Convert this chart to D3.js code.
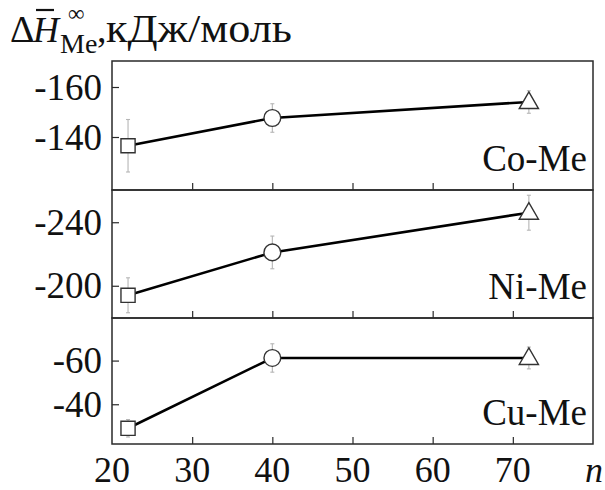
<!DOCTYPE html>
<html><head><meta charset="utf-8">
<script src="https://cdn.jsdelivr.net/npm/d3@7"></script>
<style>
html,body{margin:0;padding:0;background:#fff;}
</style></head>
<body>
<svg id="chart" width="605" height="490" font-family="'Liberation Serif', 'DejaVu Serif', 'Times New Roman', serif"></svg>
<script>
// ---- data ----
const nValues = [22, 40, 72];
const markerShapes = ["square", "circle", "triangle"];
const panelNames = ["Co-Me", "Ni-Me", "Cu-Me"];
const coValues = [-136.5, -147.6, -154.0];
const coErrors = [10.5, 5.7, 4.5];
const niValues = [-194.0, -221.0, -246.0];
const niErrors = [11, 10.3, 11];
const cuValues = [-29.0, -61.2, -61.2];
const cuErrors = [4, 6.5, 5];
const coTicks = [-140, -160];
const niTicks = [-200, -240];
const cuTicks = [-40, -60];
const xTicks = [20, 30, 40, 50, 60, 70];
const coDomain = [-118.8, -170.4];
const niDomain = [-179.7, -260.3];
const cuDomain = [-21.8, -79.5];

const FONT = "'Liberation Serif', 'DejaVu Serif', 'Times New Roman', serif";
const svg = d3.select("#chart");
const left = 112, right = 593;
const x = d3.scaleLinear().domain([20, 80]).range([left, right]);
const panels = [
  {name: panelNames[0], vals: coValues, errs: coErrors, ticks: coTicks, domain: coDomain, top: 61, bottom: 190},
  {name: panelNames[1], vals: niValues, errs: niErrors, ticks: niTicks, domain: niDomain, top: 190, bottom: 318},
  {name: panelNames[2], vals: cuValues, errs: cuErrors, ticks: cuTicks, domain: cuDomain, top: 318, bottom: 444}
];
const frameColor = "#2a2a2a";
const txt = "#111";

panels.forEach((p, pi) => {
  const y = d3.scaleLinear().domain(p.domain).range([p.bottom, p.top]);
  const g = svg.append("g");
  const xa = g.append("g").attr("transform", `translate(0,${p.bottom})`)
    .call(d3.axisTop(x).tickValues(xTicks.slice(1)).tickSize(7).tickFormat(""));
  xa.select(".domain").remove();
  xa.selectAll("line").attr("stroke", frameColor).attr("stroke-width", 1.2);
  const ya = g.append("g").attr("transform", `translate(${left},0)`)
    .call(d3.axisRight(y).tickValues(p.ticks).tickSize(7).tickFormat(""));
  ya.select(".domain").remove();
  ya.selectAll("line").attr("stroke", frameColor).attr("stroke-width", 1.2);
  g.selectAll("text.yl").data(p.ticks).enter().append("text")
    .attr("x", 102).attr("y", d => y(d)).attr("dy", "0.34em")
    .attr("font-family", FONT).attr("fill", txt)
    .attr("text-anchor", "end").attr("font-size", 37).text(d => String(d));
  g.append("rect").attr("x", left).attr("y", p.top)
    .attr("width", right - left).attr("height", p.bottom - p.top)
    .attr("fill", "none").attr("stroke", frameColor).attr("stroke-width", 1.5);
  const pts = nValues.map((n, i) => ({n, v: p.vals[i], e: p.errs[i], s: markerShapes[i]}));
  const eb = g.append("g").attr("stroke", "#b5b5b5").attr("stroke-width", 1.1);
  pts.forEach(d => {
    eb.append("line").attr("x1", x(d.n)).attr("x2", x(d.n)).attr("y1", y(d.v - d.e)).attr("y2", y(d.v + d.e));
    [d.v - d.e, d.v + d.e].forEach(v => eb.append("line")
      .attr("x1", x(d.n) - 2).attr("x2", x(d.n) + 2).attr("y1", y(v)).attr("y2", y(v)));
  });
  g.append("path").datum(pts)
    .attr("d", d3.line().x(d => x(d.n)).y(d => y(d.v)))
    .attr("fill", "none").attr("stroke", "#000").attr("stroke-width", 2.6);
  const symMap = {square: d3.symbolSquare, circle: d3.symbolCircle, triangle: d3.symbolTriangle};
  const sizeMap = {square: 200, circle: 220, triangle: 160};
  pts.forEach(d => {
    g.append("path")
      .attr("d", d3.symbol().type(symMap[d.s]).size(sizeMap[d.s])())
      .attr("transform", `translate(${x(d.n)},${y(d.v) + (d.s === "triangle" ? 1 : 0)})`)
      .attr("fill", "#fff").attr("stroke", "#333").attr("stroke-width", 1.4);
  });
  g.append("text").attr("x", 587).attr("y", p.bottom - 19)
    .attr("font-family", FONT).attr("fill", txt)
    .attr("text-anchor", "end").attr("font-size", 37).text(p.name);
});

svg.selectAll("text.xl").data(xTicks).enter().append("text")
  .attr("x", d => x(d)).attr("y", 482).attr("text-anchor", "middle")
  .attr("font-family", FONT).attr("fill", txt)
  .attr("font-size", 36).text(d => String(d));
svg.append("text").attr("x", 585).attr("y", 482).attr("font-size", 36)
  .attr("font-family", FONT).attr("fill", txt)
  .attr("font-style", "italic").text("n");

// title pieces
const tg = svg.append("g").attr("font-family", FONT).attr("fill", txt);
tg.append("text").attr("x", 10).attr("y", 42).attr("font-size", 38).text("Δ");
tg.append("text").attr("x", 33).attr("y", 42).attr("font-size", 36).attr("font-style", "italic").text("H");
tg.append("text").attr("x", 68).attr("y", 21).attr("font-size", 23).text("∞");
tg.append("text").attr("x", 60).attr("y", 53).attr("font-size", 28).text("Me");
tg.append("text").attr("x", 97).attr("y", 42).attr("font-size", 38).text(",");
tg.append("text").attr("x", 106).attr("y", 42).attr("font-size", 40)
  .attr("textLength", 186).attr("lengthAdjust", "spacingAndGlyphs").text("кДж/моль");
svg.append("line").attr("x1", 36).attr("x2", 54).attr("y1", 10).attr("y2", 10)
  .attr("stroke", txt).attr("stroke-width", 2.2);
</script>
</body></html>
